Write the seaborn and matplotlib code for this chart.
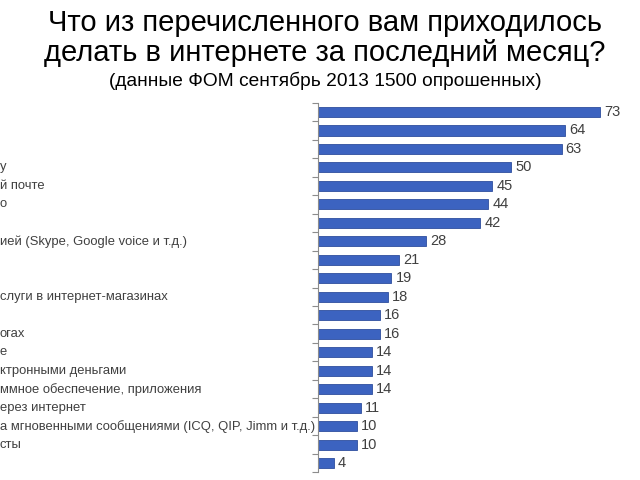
import matplotlib
matplotlib.use("Agg")
import matplotlib.pyplot as plt
import matplotlib.transforms as mtransforms
import seaborn as sns
import pandas as pd
import numpy as np

title_line1 = "Что из перечисленного вам приходилось"
title_line2 = "делать в интернете за последний месяц?"
subtitle = "(данные ФОМ сентябрь 2013 1500 опрошенных)"

values = [73, 64, 63, 50, 45, 44, 42, 28, 21, 19, 18, 16, 16, 14, 14, 14, 11, 10, 10, 4]
labels = ["", "", "", "у", "й почте", "о", "",
          "ией (Skype, Google voice и т.д.)", "", "",
          "слуги в интернет-магазинах", "", "огах", "е",
          "ктронными деньгами", "ммное обеспечение, приложения",
          "ерез интернет",
          "а мгновенными сообщениями (ICQ, QIP, Jimm и т.д.)",
          "сты", ""]

sns.set_theme(style="white")
plt.rcParams['font.family'] = ['Liberation Sans', 'DejaVu Sans']

df = pd.DataFrame({"row": [str(i) for i in range(len(values))], "value": values})

fig = plt.figure(figsize=(6.4, 4.8), dpi=100)
ax = fig.add_axes([0.497, 0.016, 0.483, 0.770])

sns.barplot(data=df, x="value", y="row", orient="h", color="#3C63C0",
            width=0.55, edgecolor="#2E4F9E", linewidth=0.6, ax=ax, saturation=1)

ax.set_xlim(0, 80)
ax.set_ylim(len(values) - 0.5, -0.5)
ax.set_xlabel("")
ax.set_ylabel("")
ax.set_xticks([])
ax.set_yticks([])
ax.set_yticks(np.arange(-0.5, len(values), 1.0), minor=True)
ax.tick_params(axis="y", which="minor", length=4, width=0.8, color="#8C8C8C",
               direction="out", left=True, labelleft=False)
for s in ["top", "right", "bottom"]:
    ax.spines[s].set_visible(False)
ax.spines["left"].set_color("#8C8C8C")
ax.spines["left"].set_linewidth(0.8)

for c in ax.containers:
    ax.bar_label(c, labels=[str(v) for v in values], padding=3,
                 fontsize=10.5, color="#404040")

trans = mtransforms.blended_transform_factory(fig.transFigure, ax.transData)
for i, lab in enumerate(labels):
    if lab:
        ax.text(0.0, i, lab, transform=trans, ha="left", va="center",
                fontsize=9.4, color="#404040", clip_on=False)

fig.text(0.508, 0.952, title_line1, ha="center", va="center", fontsize=21, color="#000000")
fig.text(0.508, 0.889, title_line2, ha="center", va="center", fontsize=21, color="#000000")
fig.text(0.508, 0.832, subtitle, ha="center", va="center", fontsize=13.8, color="#000000")

fig.savefig("out.png", dpi=100)
